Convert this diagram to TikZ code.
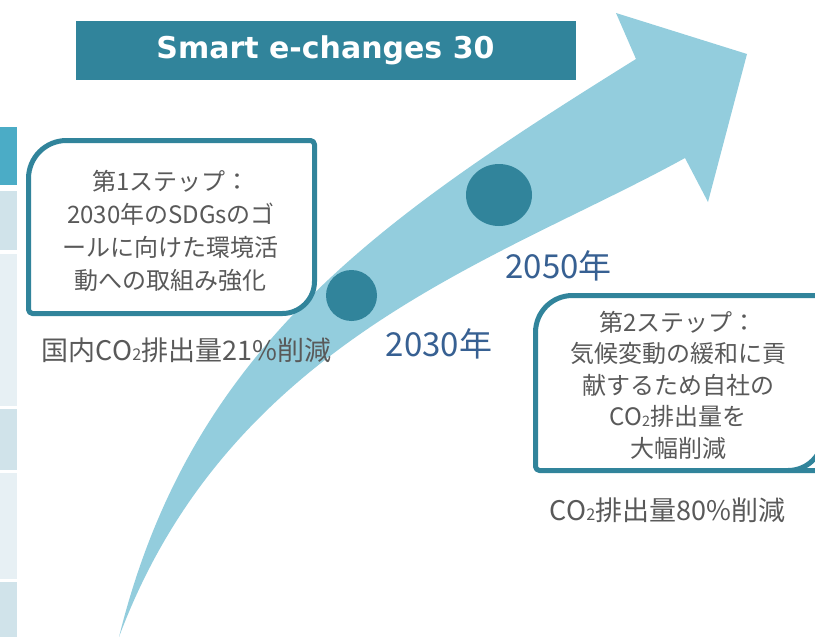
\documentclass[tikz,border=0pt]{standalone}
\usepackage{fontspec}
\usepackage{graphicx}
\setmainfont{Noto Sans CJK JP}
\newfontfamily\jpfont{Noto Sans CJK JP}
\newfontfamily\titlefont{DejaVu Sans}
\usetikzlibrary{shapes.geometric}
\definecolor{tealdark}{HTML}{31849B}
\definecolor{arrowblue}{HTML}{93CDDD}
\definecolor{stripA}{HTML}{4BACC6}
\definecolor{stripB}{HTML}{D0E3EA}
\definecolor{stripC}{HTML}{E7F0F4}
\definecolor{greytext}{HTML}{595959}
\definecolor{yearblue}{HTML}{376092}
\newcommand{\cotwo}{CO\raisebox{-0.02em}{\scalebox{0.6}{2}}}
\tikzset{
  titletext/.style={text=white, font=\titlefont\bfseries\fontsize{30}{34}\selectfont, inner sep=0pt},
  boxtext/.style={text=greytext, align=center, font=\jpfont\fontsize{24}{33}\selectfont, inner sep=0pt},
  labeltext/.style={text=greytext, font=\jpfont\fontsize{27}{32}\selectfont, inner sep=0pt},
  yeartext/.style={text=yearblue, font=\jpfont\fontsize{33}{38}\selectfont, inner sep=0pt},
  dot/.style={circle, fill=tealdark, inner sep=0pt, minimum size=51pt},
  bigdot/.style={ellipse, fill=tealdark, inner sep=0pt, minimum width=66pt, minimum height=62pt},
  stepframe/.style={draw=tealdark, line width=5pt, fill=white, line join=round},
}
\begin{document}
\begin{tikzpicture}[x=1pt,y=-1pt]
\useasboundingbox (0,0) rectangle (815,637);
% left strip
\fill[stripA] (0,127) rectangle (17,185);
\fill[stripB] (0,191) rectangle (17,250);
\fill[stripC] (0,254) rectangle (17,406);
\fill[stripB] (0,409) rectangle (17,470);
\fill[stripC] (0,473) rectangle (17,579);
\fill[stripB] (0,582) rectangle (17,637);
% title
\fill[tealdark] (76,21) rectangle (576,80);
\node[titletext] (title) at (325.5,50.5) {Smart e-changes 30};
% arrow
\fill[arrowblue] (119,637) .. controls (191,346) and (381,218) .. (636,59)
  -- (616,13) -- (747,54) -- (708,202) -- (685,158)
  .. controls (500,260) and (230,340) .. (119,637) -- cycle;
% milestones
\node[dot] (m2030) at (351.5,295.5) {};
\node[bigdot] (m2050) at (499,195) {};
\node[yeartext] (y2030) at (439,343.5) {2030年};
\node[yeartext] (y2050) at (558.5,266) {2050年};
% step 1 box
\draw[stepframe] (28.5,178.5) .. controls (28.5,157.5) and (45.5,140.5) .. (66.5,140.5)
  -- (310.5,140.5) .. controls (312.7,140.5) and (314.5,142.3) .. (314.5,144.5)
  -- (314.5,281.5) .. controls (314.5,299) and (300,313.5) .. (282.5,313.5)
  -- (32.5,313.5) .. controls (30.3,313.5) and (28.5,311.7) .. (28.5,309.5) -- cycle;
\node[boxtext] (step1) at (171,231) {第1ステップ：\\2030年のSDGsのゴ\\ールに向けた環境活\\動への取組み強化};
\node[labeltext] (red1) at (186.5,350) {国内\cotwo 排出量21\%削減};
% step 2 box
\draw[stepframe] (535.5,332.5) .. controls (535.5,312) and (552,295.5) .. (572.5,295.5)
  -- (840,295.5) -- (840,470.5) -- (788,470.5)
  -- (539.5,470.5) .. controls (537.3,470.5) and (535.5,468.7) .. (535.5,466.5) -- cycle;
\draw[stepframe, fill=none] (823,420) -- (823,435.5) .. controls (823,455) and (807.5,470.5) .. (788,470.5);
\node[boxtext, font=\jpfont\fontsize{24}{31.5}\selectfont] (step2) at (678,385) {第2ステップ：\\気候変動の緩和に貢\\献するため自社の\\\cotwo 排出量を\\大幅削減};
\node[labeltext] (red2) at (667.5,510) {\cotwo 排出量80\%削減};
\end{tikzpicture}
\end{document}
